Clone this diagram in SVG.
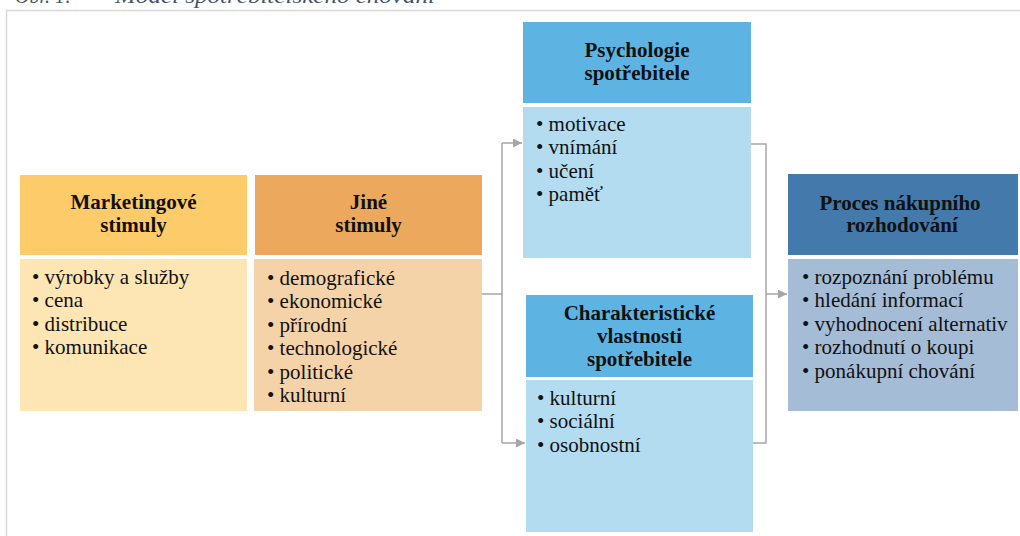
<svg xmlns="http://www.w3.org/2000/svg" width="1020" height="536" viewBox="0 0 1020 536" font-family="'Liberation Serif', 'Times New Roman', serif">
<defs>
<style>
.hd{font-family:"Liberation Serif","Times New Roman",serif;font-weight:bold;font-size:21px;fill:#111;text-anchor:middle}
.bd{font-family:"Liberation Serif","Times New Roman",serif;font-size:21px;fill:#111}
.cap{font-family:"Liberation Serif","Times New Roman",serif;font-style:italic;font-size:20px;fill:#44546a}
.conn{fill:none;stroke:#a6a6a6;stroke-width:1.5}
.frame{fill:none;stroke:#d9d9d9;stroke-width:1.5}
</style>
<marker id="arr" viewBox="0 0 10 10" refX="10" refY="5" markerWidth="9" markerHeight="9" markerUnits="userSpaceOnUse" orient="auto">
<path d="M0,0 L10,5 L0,10 z" fill="#a6a6a6"/>
</marker>
</defs>
<rect width="1020" height="536" fill="#fff"/>
<text class="cap" x="15" y="3">Obr. 1:</text>
<text class="cap" x="115" y="3" textLength="320" lengthAdjust="spacingAndGlyphs">Model spotřebitelského chování</text>
<path class="frame" d="M6.5,536 V10.5 H1020"/>

<g id="marketingove-stimuly">
<rect x="20" y="175" width="227" height="80" fill="#fecb6a"/>
<rect x="20" y="259" width="227" height="152" fill="#fde6b4"/>
<text class="hd" x="133.5" y="209">Marketingové</text>
<text class="hd" x="133.5" y="232">stimuly</text>
<text class="bd" x="32" y="283.5">• výrobky a služby</text>
<text class="bd" x="32" y="307">• cena</text>
<text class="bd" x="32" y="330.5">• distribuce</text>
<text class="bd" x="32" y="354">• komunikace</text>
</g>

<g id="jine-stimuly">
<rect x="255" y="175" width="227" height="80" fill="#eca85c"/>
<rect x="254" y="259" width="228" height="152" fill="#f5d3a9"/>
<text class="hd" x="368.5" y="209">Jiné</text>
<text class="hd" x="368.5" y="232">stimuly</text>
<text class="bd" x="267" y="284.5">• demografické</text>
<text class="bd" x="267" y="308">• ekonomické</text>
<text class="bd" x="267" y="331.5">• přírodní</text>
<text class="bd" x="267" y="355">• technologické</text>
<text class="bd" x="267" y="378.5">• politické</text>
<text class="bd" x="267" y="402">• kulturní</text>
</g>

<g id="psychologie-spotrebitele">
<rect x="523" y="22" width="228" height="81" fill="#5db4e2"/>
<rect x="523" y="107" width="228" height="151" fill="#b3dcf1"/>
<text class="hd" x="637" y="57">Psychologie</text>
<text class="hd" x="637" y="80">spotřebitele</text>
<text class="bd" x="536" y="130.5">• motivace</text>
<text class="bd" x="536" y="154">• vnímání</text>
<text class="bd" x="536" y="177.5">• učení</text>
<text class="bd" x="536" y="201">• paměť</text>
</g>

<g id="charakteristicke-vlastnosti">
<rect x="526" y="295" width="227" height="82" fill="#5db4e2"/>
<rect x="526" y="380" width="227" height="152" fill="#b3dcf1"/>
<text class="hd" x="639.5" y="320">Charakteristické</text>
<text class="hd" x="639.5" y="343">vlastnosti</text>
<text class="hd" x="639.5" y="366">spotřebitele</text>
<text class="bd" x="537" y="404.5">• kulturní</text>
<text class="bd" x="537" y="428">• sociální</text>
<text class="bd" x="537" y="451.5">• osobnostní</text>
</g>

<g id="proces-nakupniho-rozhodovani">
<rect x="788" y="174" width="230" height="81" fill="#4379ab"/>
<rect x="788" y="259" width="230" height="152" fill="#a5bcd6"/>
<text class="hd" x="900" y="210">Proces nákupního</text>
<text class="hd" x="902" y="232">rozhodování</text>
<text class="bd" x="802" y="283.5">• rozpoznání problému</text>
<text class="bd" x="802" y="307">• hledání informací</text>
<text class="bd" x="802" y="330.5">• vyhodnocení alternativ</text>
<text class="bd" x="802" y="354">• rozhodnutí o koupi</text>
<text class="bd" x="802" y="377.5">• ponákupní chování</text>
</g>

<g id="connectors">
<path class="conn" d="M482,294 H502"/>
<path class="conn" d="M502,143 V443"/>
<path class="conn" d="M502,143 H522" marker-end="url(#arr)"/>
<path class="conn" d="M502,443 H525" marker-end="url(#arr)"/>
<path class="conn" d="M751,144 H766 V443 H753"/>
<path class="conn" d="M766,294 H787" marker-end="url(#arr)"/>
</g>
</svg>
